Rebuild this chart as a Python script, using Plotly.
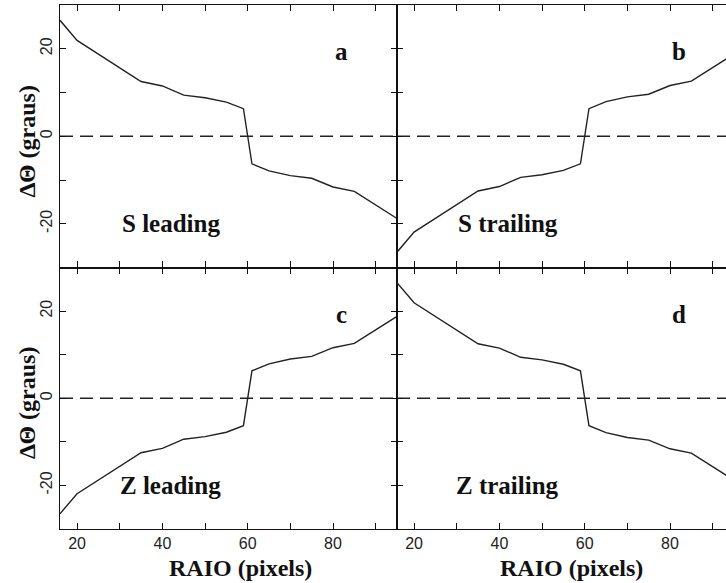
import plotly.graph_objects as go

# Radius (pixels) and angle differences (degrees)
raio = [16, 20, 35, 40, 45, 50, 55, 59, 61, 65, 70, 75, 80, 85, 95]
s_leading = [26.5, 21.9, 12.5, 11.5, 9.4, 8.8, 7.8, 6.3, -6.3, -7.9, -9.0, -9.6, -11.6, -12.6, -18.8]
s_trailing = [-26.5, -21.9, -12.5, -11.5, -9.4, -8.8, -7.8, -6.3, 6.3, 7.9, 9.0, 9.6, 11.6, 12.6, 18.8]
z_leading = [-26.5, -21.9, -12.5, -11.5, -9.4, -8.8, -7.8, -6.3, 6.3, 7.9, 9.0, 9.6, 11.6, 12.6, 18.8]
z_trailing = [26.5, 21.9, 12.5, 11.5, 9.4, 8.8, 7.8, 6.3, -6.3, -7.9, -9.0, -9.6, -11.6, -12.6, -18.8]

panel_letters = ["a", "b", "c", "d"]
panel_names = ["S leading", "S trailing", "Z leading", "Z trailing"]
x_tickvals = [20, 30, 40, 50, 60, 70, 80, 90]
x_ticktext = ["20", "", "40", "", "60", "", "80", ""]
y_tickvals = [-20, -10, 0, 10, 20]
y_ticktext = ["-20", "", "0", "", "20"]
x_title = "RAIO (pixels)"
y_title = "ΔΘ (graus)"

W, H = 726, 583
xl0, xmid, xr = 60, 397, 726
yt0, ymid, yb = 5, 267.5, 529
XMIN, XMAX = 16, 95
px_per_unit = (xmid - xl0) / (XMAX - XMIN)
xmax_right = XMIN + (xr - xmid) / px_per_unit

def px(x):
    return x / W

def py(y):
    return 1 - y / H

dom_left = [px(xl0), px(xmid)]
dom_right = [px(xmid), 1.0]
dom_top = [py(ymid), py(yt0)]
dom_bot = [py(yb), py(ymid)]

series = [s_leading, s_trailing, z_leading, z_trailing]
fig = go.Figure()

tickfont = dict(family="Liberation Sans, Arial, sans-serif", size=16, color="#222")
serif_bold = dict(family="Liberation Serif, Times New Roman, serif", size=24, color="#111", weight="bold")
serif_bold_panel = dict(family="Liberation Serif, Times New Roman, serif", size=25, color="#111", weight="bold")

layout = dict(
    width=W, height=H,
    margin=dict(l=0, r=0, t=0, b=0),
    paper_bgcolor="white", plot_bgcolor="white",
    showlegend=False,
)

for i in range(4):
    n = i + 1
    xa = "x" if n == 1 else f"x{n}"
    ya = "y" if n == 1 else f"y{n}"
    right = i in (1, 3)
    bottom = i in (2, 3)
    fig.add_trace(go.Scatter(x=raio, y=series[i], mode="lines",
                             line=dict(color="#222", width=1.4),
                             xaxis=xa, yaxis=ya, hoverinfo="skip"))
    fig.add_trace(go.Scatter(x=[XMIN, XMAX], y=[0, 0], mode="lines",
                             line=dict(color="#222", width=1.3, dash="13px,7px"),
                             xaxis=xa, yaxis=ya, hoverinfo="skip"))
    xkey = "xaxis" if n == 1 else f"xaxis{n}"
    ykey = "yaxis" if n == 1 else f"yaxis{n}"
    layout[xkey] = dict(
        domain=dom_right if right else dom_left,
        range=[XMIN, xmax_right if right else XMAX],
        anchor=ya,
        showgrid=False, zeroline=False,
        showline=True, linecolor="#111", linewidth=1.3, mirror="ticks",
        ticks="inside", ticklen=6, tickwidth=1.4, tickcolor="#111",
        tickmode="array", tickvals=x_tickvals, ticktext=x_ticktext,
        showticklabels=bottom, tickfont=tickfont,
    )
    layout[ykey] = dict(
        domain=dom_bot if bottom else dom_top,
        range=[-30, 30],
        anchor=xa,
        showgrid=False, zeroline=False,
        showline=True, linecolor="#111", linewidth=1.3,
        mirror=False if right else "ticks",
        ticks="inside", ticklen=6, tickwidth=1.4, tickcolor="#111",
        tickmode="array", tickvals=y_tickvals, ticktext=y_ticktext,
        showticklabels=not right, tickfont=tickfont, tickangle=-90,
    )

fig.update_layout(**layout)

ann = []
for i in range(4):
    n = i + 1
    xa = "x" if n == 1 else f"x{n}"
    ya = "y" if n == 1 else f"y{n}"
    ann.append(dict(x=82, y=19.3, xref=xa, yref=ya, text=panel_letters[i],
                    showarrow=False, font=serif_bold_panel, xanchor="center", yanchor="middle"))
    ann.append(dict(x=42, y=-20, xref=xa, yref=ya, text=panel_names[i],
                    showarrow=False, font=serif_bold_panel, xanchor="center", yanchor="middle"))

for cx in (240, 571):
    ann.append(dict(x=px(cx), y=py(568), xref="paper", yref="paper", text=x_title,
                    showarrow=False, font=serif_bold, xanchor="center", yanchor="middle"))
for cy in (141.5, 403):
    ann.append(dict(x=px(27), y=py(cy), xref="paper", yref="paper", text=y_title,
                    textangle=-90, showarrow=False, font=serif_bold,
                    xanchor="center", yanchor="middle"))

fig.update_layout(annotations=ann)
fig.write_html("out.html")
